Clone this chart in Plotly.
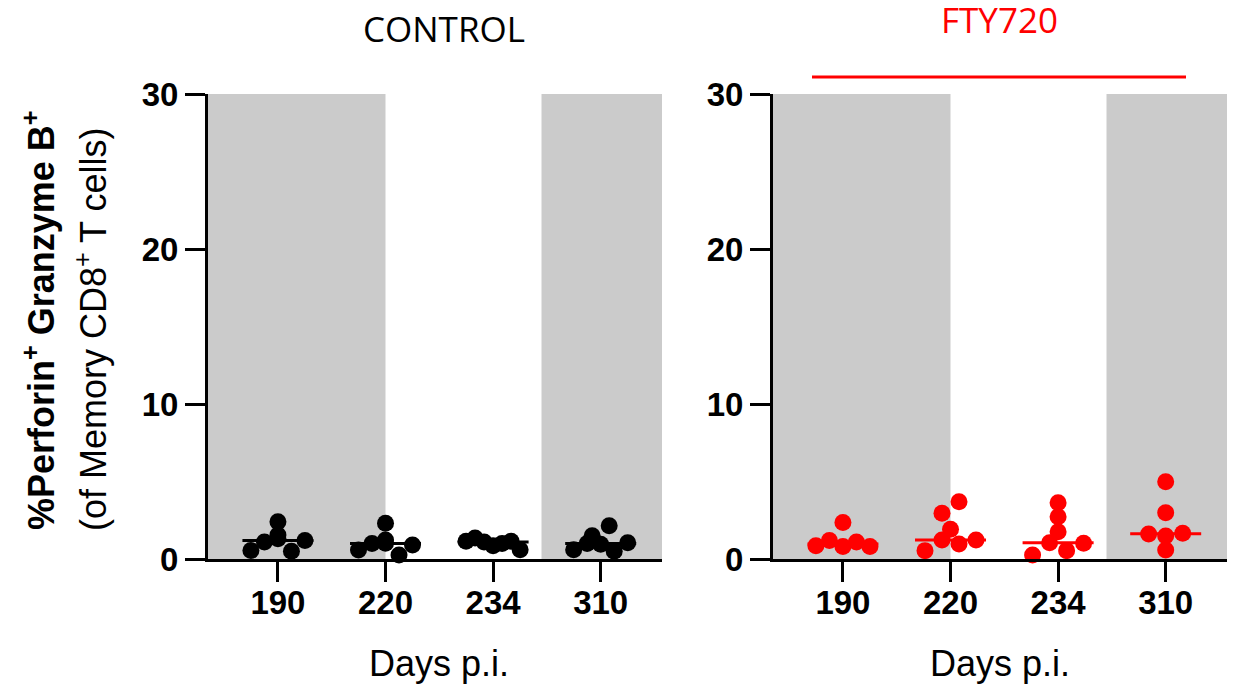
import numpy as np
import plotly.graph_objects as go

# ---------------- data ----------------
days = ["190", "220", "234", "310"]

control_d190 = [0.55, 1.55, 2.4, 1.1, 1.3, 0.5, 1.2]
control_d220 = [0.58, 1.23, 2.3, 1.0, 1.02, 0.26, 0.9]
control_d234 = [1.15, 1.35, 1.1, 0.85, 1.0, 1.15, 0.6]
control_d310 = [0.6, 1.5, 2.15, 1.0, 0.95, 0.5, 1.05]

fty_d190 = [0.85, 1.2, 0.8, 2.35, 1.1, 0.8]
fty_d220 = [1.92, 0.54, 2.95, 1.23, 3.7, 0.97, 1.23]
fty_d234 = [1.76, 0.26, 2.73, 1.05, 3.63, 0.54, 1.01]
fty_d310 = [0.58, 1.61, 4.99, 2.99, 1.48, 1.66]

y_ticks = [0, 10, 20, 30]

control_groups = [control_d190, control_d220, control_d234, control_d310]
fty_groups = [fty_d190, fty_d220, fty_d234, fty_d310]

# ---------------- layout constants ----------------
BODY = 8                       # default page margin around the plot div
W, H = 1238 - BODY, 687 - BODY
PL, PR, PT, PB = 208, 1227, 94, 559   # plot area in screen pixels
ML, MR, MT, MB = PL - BODY, W + BODY - PR, PT - BODY, H + BODY - PB
XR = [-0.65, 3.57]
PX_PER_CAT = 107.5
MARKER = 17
GREY = "#CBCBCB"
RED = "#FF0000"
FONT = "Liberation Sans, Arial, Helvetica, sans-serif"


def swarm_offsets(values, row_thr=0.8, max_half=27.0, step=17.0):
    """Prism-like dot layout: near-equal values share a row, spread horizontally."""
    n = len(values)
    order = sorted(range(n), key=lambda i: values[i])
    rows, cur, start = [], [order[0]], values[order[0]]
    for i in order[1:]:
        if values[i] - start <= row_thr:
            cur.append(i)
        else:
            rows.append(cur)
            cur, start = [i], values[i]
    rows.append(cur)
    offs = [0.0] * n
    for row in rows:
        row = sorted(row)
        k = len(row)
        sp = min(step, 2 * max_half / (k - 1)) if k > 1 else 0
        for j, i in enumerate(row):
            offs[i] = (j - (k - 1) / 2) * sp / PX_PER_CAT
    return offs


fig = go.Figure()


def add_panel(groups, color, xa, ya):
    for ci, vals in enumerate(groups):
        med = float(np.median(vals))
        fig.add_trace(go.Scatter(
            x=[ci - 0.33, ci + 0.33], y=[med, med], mode="lines",
            line=dict(color=color, width=3), xaxis=xa, yaxis=ya,
            showlegend=False, hoverinfo="skip", cliponaxis=False))
        offs = swarm_offsets(vals)
        fig.add_trace(go.Scatter(
            x=[ci + o for o in offs], y=vals, mode="markers",
            marker=dict(color=color, size=MARKER, line=dict(width=0)),
            xaxis=xa, yaxis=ya, showlegend=False, cliponaxis=False))


add_panel(control_groups, "#000000", "x", "y")
add_panel(fty_groups, RED, "x2", "y2")

# grey background bands
for xr, yr in (("x", "y"), ("x2", "y2")):
    fig.add_shape(type="rect", xref=xr, yref=yr, x0=XR[0], x1=1.0, y0=0, y1=30,
                  fillcolor=GREY, line=dict(width=0), layer="below")
    fig.add_shape(type="rect", xref=xr, yref=yr, x0=2.45, x1=XR[1], y0=0, y1=30,
                  fillcolor=GREY, line=dict(width=0), layer="below")

plot_w = PR - PL
plot_h = PB - PT


def px_x(p):
    return (p - PL) / plot_w


def px_y(p):
    return (PB - p) / plot_h


# red bar above FTY720 panel
fig.add_shape(type="line", xref="paper", yref="paper",
              x0=px_x(812), x1=px_x(1186), y0=px_y(77), y1=px_y(77),
              line=dict(color=RED, width=3))

dom1 = [0, px_x(662)]
dom2 = [px_x(773), 1]

axis_common = dict(
    showline=True, linecolor="black", linewidth=3,
    ticks="outside", ticklen=20, tickwidth=3, tickcolor="black",
    showgrid=False, zeroline=False,
    tickfont=dict(family=FONT, size=33, color="black", weight="bold"),
)
xaxis_extra = dict(tickvals=[0, 1, 2, 3], ticktext=days, range=XR,
                   ticklabelstandoff=-8)

fig.update_layout(
    width=W, height=H,
    margin=dict(l=ML, r=MR, t=MT, b=MB),
    paper_bgcolor="white", plot_bgcolor="white",
    showlegend=False,
    xaxis=dict(domain=dom1, anchor="y", **xaxis_extra, **axis_common),
    yaxis=dict(domain=[0, 1], range=[0, 30], tickvals=y_ticks, anchor="x",
               **axis_common),
    xaxis2=dict(domain=dom2, anchor="y2", **xaxis_extra, **axis_common),
    yaxis2=dict(domain=[0, 1], range=[0, 30], tickvals=y_ticks, anchor="x2",
                **axis_common),
)

ann = [
    dict(text="CONTROL", x=px_x(444), y=px_y(28),
         font=dict(family="Open Sans", size=35, color="black")),
    dict(text="FTY720", x=px_x(999), y=px_y(20),
         font=dict(family="Open Sans", size=35, color=RED)),
    dict(text="Days p.i.", x=px_x(439), y=px_y(663),
         font=dict(family=FONT, size=36, color="black")),
    dict(text="Days p.i.", x=px_x(1000), y=px_y(663),
         font=dict(family=FONT, size=36, color="black")),
    dict(text="<b>%Perforin<sup>+</sup> Granzyme B<sup>+</sup></b>",
         x=px_x(39), y=px_y(320), textangle=-90,
         font=dict(family=FONT, size=36, color="black")),
    dict(text="(of Memory CD8<sup>+</sup> T cells)",
         x=px_x(91), y=px_y(330), textangle=-90,
         font=dict(family=FONT, size=36, color="black")),
]
for a in ann:
    fig.add_annotation(xref="paper", yref="paper", showarrow=False,
                       xanchor="center", yanchor="middle", **a)

fig.write_html("out.html")
